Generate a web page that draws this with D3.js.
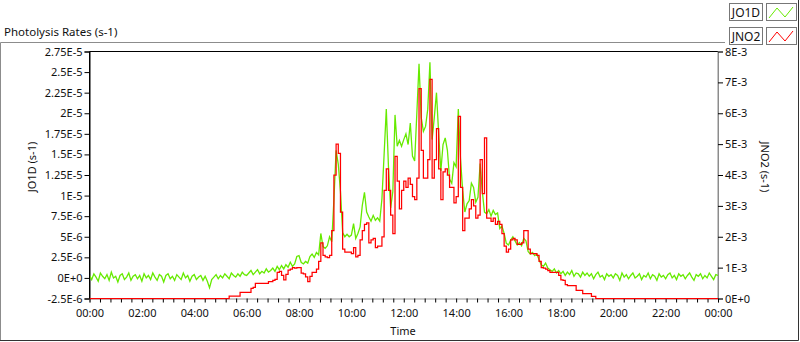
<html>
<head>
<script src="https://d3js.org/d3.v7.min.js"></script>
</head>
<style>
	body {
		margin: 0;
		background-color: white;
	}
	text {
		font-family: "Noto Sans", sans-serif;
		font-size: 11px;
		fill: #111;
	}
</style>
<body>
<script>
	var width = 800;
	var height = 342;
	var plot = {left: 89.5, right: 718, top: 51.5, bottom: 298.5};

	// one sample every 5 minutes, 00:00 .. 24:00
	var stepMinutes = 5;

	// JO1D in units of 1E-6 s-1 (left axis)
	var jo1d = [
		0.3,-0.2,0.5,0.1,-0.4,0.6,0.2,-0.1,0.4,-0.3,0.7,0.0,
		0.2,-0.5,0.3,0.5,-0.2,0.1,0.6,-0.3,0.2,0.4,-0.1,0.3,
		-0.4,0.5,0.0,0.3,-0.2,0.6,0.1,-0.3,0.4,0.2,-0.5,0.3,
		0.5,-0.1,0.2,-0.3,0.4,0.1,-0.2,0.6,0.0,0.3,-0.4,0.2,
		0.4,-0.2,0.1,0.3,-0.3,0.2,-0.4,-1.2,-0.2,0.1,0.4,-0.1,
		0.3,0.0,0.5,0.2,-0.1,0.6,0.3,0.1,0.5,0.2,0.7,0.4,
		0.3,0.6,0.9,0.4,0.7,1.0,0.5,0.8,0.6,1.1,0.7,0.9,
		1.2,0.8,1.4,1.0,1.5,1.1,1.6,1.3,1.9,1.4,1.7,2.6,
		2.7,1.9,1.7,2.0,1.8,2.6,2.9,2.5,3.1,2.8,5.4,3.8,
		3.6,3.9,5.0,4.4,9.5,15.5,13.8,10.5,5.5,5.0,5.3,5.0,
		5.2,6.6,4.8,5.4,6.2,8.8,10.4,8.0,7.4,6.9,7.6,7.0,
		7.3,6.9,9.6,15.0,20.5,13.5,8.5,10.5,19.8,16.0,16.7,16.0,
		16.8,17.5,16.2,18.8,14.8,14.2,20.0,26.0,19.5,17.8,18.4,20.5,
		26.2,16.8,19.5,22.5,17.5,13.0,16.2,17.0,15.5,12.0,11.5,14.0,
		13.5,20.5,14.5,10.6,8.0,9.0,9.4,11.5,11.0,9.2,9.8,13.9,
		10.5,8.0,7.8,8.3,7.5,8.2,7.7,7.9,6.0,6.3,5.4,4.2,
		4.0,4.6,5.0,4.5,4.0,4.3,3.9,4.8,4.5,3.2,2.9,3.1,
		2.7,2.9,2.2,1.6,1.4,1.8,1.2,1.0,0.8,1.1,0.6,0.9,
		0.5,0.8,0.3,0.7,0.4,0.9,0.2,0.6,0.5,0.1,0.7,0.3,
		0.6,0.2,0.5,-0.1,0.4,0.7,0.1,0.3,-0.2,0.5,0.2,0.4,
		0.0,0.5,0.3,-0.3,0.6,0.1,0.4,-0.1,0.3,0.6,0.0,0.2,
		0.5,-0.2,0.3,0.1,0.6,-0.1,0.4,0.2,-0.3,0.5,0.1,0.3,
		-0.1,0.4,0.6,0.0,0.3,-0.2,0.5,0.2,0.4,-0.1,0.3,0.6,
		0.1,-0.3,0.4,0.2,0.5,-0.1,0.3,0.0,0.6,0.2,-0.2,0.4,0.3
	];

	// JNO2 in units of 1E-3 s-1 (right axis)
	var jno2 = [
		0,0,0,0,0,0,0,0,0,0,0,0,
		0,0,0,0,0,0,0,0,0,0,0,0,
		0,0,0,0,0,0,0,0,0,0,0,0,
		0,0,0,0,0,0,0,0,0,0,0,0,
		0,0,0,0,0,0,0,0,0,0,0,0,
		0,0,0,0,0.08,0.08,0.08,0.08,0.08,0.2,0.2,0.2,
		0.2,0.2,0.33,0.36,0.49,0.49,0.49,0.49,0.49,0.49,0.55,0.55,
		0.59,0.62,0.85,0.88,0.75,0.6,0.78,0.92,0.95,1.0,0.98,1.0,
		1.0,0.82,0.8,0.7,0.55,0.72,0.85,0.85,0.95,1.2,1.8,1.4,
		1.35,1.32,1.4,2.2,4.0,5.0,4.7,2.8,1.6,1.5,1.5,1.5,
		1.45,1.65,1.35,1.4,1.9,2.2,2.4,2.45,1.8,1.9,1.95,1.65,
		1.7,1.7,2.0,3.5,4.2,3.5,2.7,2.1,4.6,3.8,2.9,3.5,
		3.8,3.6,3.9,3.7,3.3,3.2,3.9,6.8,4.8,3.9,3.9,4.5,
		7.1,3.9,4.5,5.5,4.2,3.2,4.1,4.2,4.0,3.6,3.6,3.1,
		3.3,5.9,3.6,2.2,2.6,2.6,2.9,3.2,3.0,2.6,2.7,4.5,
		3.4,5.2,2.6,2.6,2.5,2.6,2.4,2.5,2.4,2.1,1.7,1.5,
		1.6,1.9,1.95,1.9,1.75,1.75,1.8,2.2,2.2,1.6,1.45,1.45,
		1.45,1.4,1.2,1.0,0.98,0.95,0.9,0.85,0.85,0.85,0.85,0.75,
		0.6,0.59,0.45,0.42,0.42,0.42,0.42,0.26,0.26,0.26,0.16,0.16,
		0.16,0.16,0.07,0.07,0,0,0,0,0,0,0,0,
		0,0,0,0,0,0,0,0,0,0,0,0,
		0,0,0,0,0,0,0,0,0,0,0,0,
		0,0,0,0,0,0,0,0,0,0,0,0,
		0,0,0,0,0,0,0,0,0,0,0,0,0
	];

	var leftTicks = [-2.5e-6,0,2.5e-6,5e-6,7.5e-6,1e-5,1.25e-5,1.5e-5,1.75e-5,2e-5,2.25e-5,2.5e-5,2.75e-5];
	var leftTickLabels = ["-2.5E-6","0E+0","2.5E-6","5E-6","7.5E-6","1E-5","1.25E-5","1.5E-5","1.75E-5","2E-5","2.25E-5","2.5E-5","2.75E-5"];
	var rightTicks = [0,1e-3,2e-3,3e-3,4e-3,5e-3,6e-3,7e-3,8e-3];
	var rightTickLabels = ["0E+0","1E-3","2E-3","3E-3","4E-3","5E-3","6E-3","7E-3","8E-3"];
	var xTickLabels = ["00:00","02:00","04:00","06:00","08:00","10:00","12:00","14:00","16:00","18:00","20:00","22:00","00:00"];
	var seriesNames = ["JO1D","JNO2"];
	var seriesColors = ["#66ea00","#ff0000"];

	var svg = d3.select("body")
		.append("svg")
		.attr("width", width)
		.attr("height", height)
		.attr("display", "block");

	var x = d3.scaleLinear().domain([0, 1440]).range([plot.left, plot.right]);
	var yLeft = d3.scaleLinear().domain([-2.5e-6, 2.75e-5]).range([plot.bottom, plot.top]);
	var yRight = d3.scaleLinear().domain([0, 8e-3]).range([plot.bottom, plot.top]);

	// outer frame
	svg.append("path").attr("d", "M0.5,341 V42.5 H725").attr("fill", "none").attr("stroke", "#8c8c8c");
	svg.append("path").attr("d", "M0,340.5 H798.5 V0").attr("fill", "none").attr("stroke", "#333");

	svg.append("text")
		.attr("x", 4)
		.attr("y", 36)
		.style("font-size", "11.5px")
		.text("Photolysis Rates (s-1)");

	// plot background + frame
	svg.append("rect")
		.attr("x", plot.left).attr("y", plot.top)
		.attr("width", plot.right - plot.left).attr("height", plot.bottom - plot.top)
		.attr("fill", "white");
	svg.append("line").attr("x1", plot.left).attr("x2", plot.right).attr("y1", plot.top).attr("y2", plot.top).attr("stroke", "#000");
	svg.append("line").attr("x1", plot.right).attr("x2", plot.right).attr("y1", plot.top).attr("y2", plot.bottom).attr("stroke", "#8c8c8c");

	// left axis
	var leftAxis = d3.axisLeft(yLeft)
		.tickValues(leftTicks)
		.tickSize(5)
		.tickPadding(2)
		.tickFormat(function(d, i){ return leftTickLabels[i]; });
	var gl = svg.append("g").attr("transform", "translate(" + plot.left + ",0)").call(leftAxis);
	gl.select(".domain").attr("stroke", "#000");

	// right axis
	var rightAxis = d3.axisRight(yRight)
		.tickValues(rightTicks)
		.tickSize(5)
		.tickPadding(2)
		.tickFormat(function(d, i){ return rightTickLabels[i]; });
	var gr = svg.append("g").attr("transform", "translate(" + plot.right + ",0)").call(rightAxis);
	gr.select(".domain").attr("stroke", "#8c8c8c");

	// bottom axis: minor ticks every 24 min, labels every 2 h
	var minorTicks = d3.range(0, 1441, 24);
	var bottomAxis = d3.axisBottom(x)
		.tickValues(minorTicks)
		.tickSize(4)
		.tickPadding(7)
		.tickFormat(function(d){ return d % 120 == 0 ? xTickLabels[d / 120] : ""; });
	var gb = svg.append("g").attr("transform", "translate(0," + plot.bottom + ")").call(bottomAxis);
	gb.select(".domain").attr("stroke", "#8c8c8c");

	svg.selectAll(".tick text").style("font-family", "Noto Sans").style("font-size", "11px").attr("fill", "#111");
	svg.selectAll(".tick line").attr("stroke", "#000");
	svg.selectAll(".domain").attr("stroke-width", 1);

	// axis titles
	svg.append("text")
		.attr("transform", "translate(36," + 167 + ") rotate(-90)")
		.attr("text-anchor", "middle")
		.attr("fill", "#1d1b3a")
		.text("JO1D (s-1)");
	svg.append("text")
		.attr("transform", "translate(761," + 167 + ") rotate(90)")
		.attr("text-anchor", "middle")
		.attr("fill", "#1d1b3a")
		.text("JNO2 (s-1)");
	svg.append("text")
		.attr("x", 403)
		.attr("y", 335)
		.attr("text-anchor", "middle")
		.text("Time");

	// series
	var clip = svg.append("clipPath").attr("id", "plotclip")
		.append("rect")
		.attr("x", plot.left).attr("y", plot.top)
		.attr("width", plot.right - plot.left).attr("height", plot.bottom - plot.top + 1);

	var lineJO1D = d3.line()
		.x(function(d, i){ return x(i * stepMinutes); })
		.y(function(d){ return yLeft(d * 1e-6); });
	var lineJNO2 = d3.line()
		.curve(d3.curveStepAfter)
		.x(function(d, i){ return x(i * stepMinutes); })
		.y(function(d){ return yRight(d * 1e-3); });

	var series = svg.append("g").attr("clip-path", "url(#plotclip)");
	series.append("path")
		.datum(jo1d)
		.attr("d", lineJO1D)
		.attr("fill", "none")
		.attr("stroke", seriesColors[0])
		.attr("stroke-width", 1.3);
	series.append("path")
		.datum(jno2)
		.attr("d", lineJNO2)
		.attr("fill", "none")
		.attr("stroke", seriesColors[1])
		.attr("stroke-width", 1.25);

	// left axis line drawn over the data
	svg.append("line").attr("x1", plot.left).attr("x2", plot.left).attr("y1", plot.top).attr("y2", plot.bottom).attr("stroke", "#000");

	// legend
	var legend = svg.selectAll(".legend")
		.data(seriesNames)
		.enter()
		.append("g")
		.attr("class", "legend")
		.attr("transform", function(d, i){ return "translate(729," + (3 + i * 24) + ")"; });
	legend.append("rect")
		.attr("x", 0.5).attr("y", 0.5)
		.attr("width", 33).attr("height", 17)
		.attr("fill", "white")
		.attr("stroke", "#777");
	legend.append("text")
		.attr("x", 17)
		.attr("y", 13.5)
		.attr("text-anchor", "middle")
		.style("font-size", "12px")
		.text(function(d){ return d; });
	legend.append("rect")
		.attr("x", 37.5).attr("y", 0.5)
		.attr("width", 30).attr("height", 17)
		.attr("fill", "white")
		.attr("stroke", "#777");
	legend.append("path")
		.attr("d", "M40,15 L48,5 L56,14 L64,4")
		.attr("fill", "none")
		.attr("stroke", function(d, i){ return seriesColors[i]; });
</script>
</body>
</html>
